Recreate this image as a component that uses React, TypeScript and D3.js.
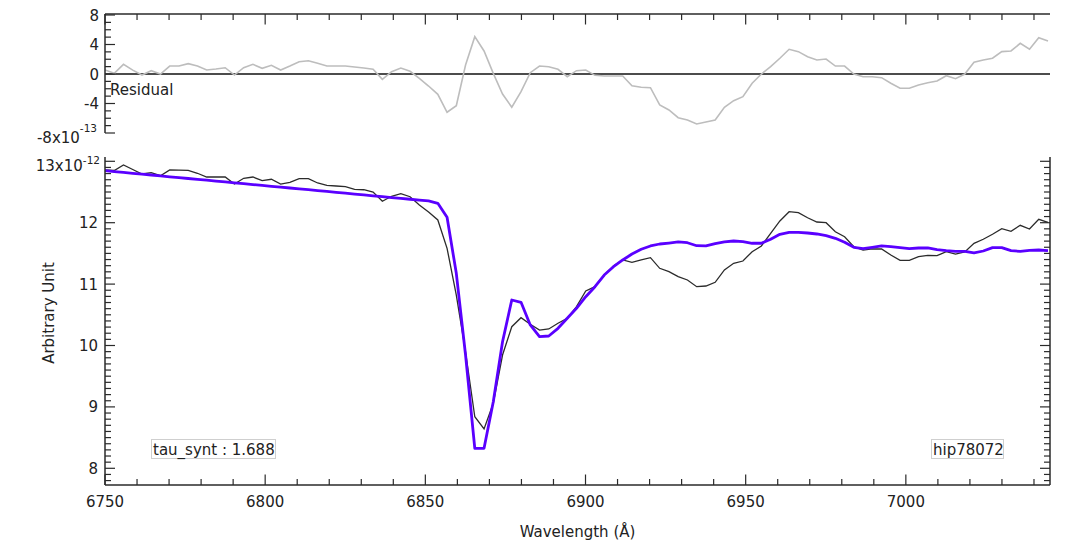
import React from "react";
import * as d3 from "d3";

// wavelength grid (Å)
const WAVE_START = 6750;
const WAVE_STEP = 2.886;

// observed spectrum (x1e-12)
const observed = [
  12.858, 12.850, 12.940, 12.866, 12.793, 12.814, 12.765, 12.858, 12.855, 12.853,
  12.805, 12.744, 12.744, 12.744, 12.630, 12.723, 12.744, 12.684, 12.707, 12.630,
  12.658, 12.717, 12.717, 12.647, 12.609, 12.598, 12.586, 12.544, 12.537, 12.500,
  12.349, 12.430, 12.472, 12.423, 12.288, 12.174, 12.044, 11.583, 10.822, 9.894,
  8.840, 8.640, 9.059, 9.845, 10.306, 10.453, 10.345, 10.252, 10.269, 10.362,
  10.443, 10.632, 10.888, 10.958, 11.148, 11.295, 11.393, 11.355, 11.393, 11.430,
  11.257, 11.202, 11.121, 11.067, 10.958, 10.969, 11.029, 11.230, 11.339, 11.376,
  11.528, 11.621, 11.827, 12.028, 12.179, 12.163, 12.081, 12.011, 12.000, 11.853,
  11.772, 11.609, 11.555, 11.572, 11.572, 11.474, 11.388, 11.388, 11.446, 11.469,
  11.463, 11.528, 11.490, 11.523, 11.664, 11.730, 11.811, 11.902, 11.860, 11.958,
  11.897, 12.055, 12.007,
];

// synthetic model (x1e-12)
const model = [
  12.847, 12.833, 12.819, 12.805, 12.791, 12.777, 12.762, 12.748, 12.734, 12.720,
  12.706, 12.692, 12.678, 12.664, 12.650, 12.636, 12.621, 12.607, 12.593, 12.579,
  12.565, 12.551, 12.537, 12.523, 12.509, 12.495, 12.480, 12.466, 12.452, 12.438,
  12.424, 12.410, 12.396, 12.382, 12.368, 12.354, 12.316, 12.088, 11.176, 9.845,
  8.326, 8.326, 9.085, 10.062, 10.741, 10.704, 10.334, 10.143, 10.155, 10.280,
  10.443, 10.606, 10.795, 10.958, 11.148, 11.283, 11.393, 11.490, 11.567, 11.621,
  11.653, 11.669, 11.686, 11.674, 11.625, 11.621, 11.658, 11.686, 11.702, 11.691,
  11.665, 11.665, 11.730, 11.811, 11.844, 11.844, 11.832, 11.816, 11.788, 11.746,
  11.681, 11.599, 11.577, 11.599, 11.621, 11.609, 11.593, 11.577, 11.588, 11.588,
  11.560, 11.544, 11.534, 11.534, 11.507, 11.539, 11.593, 11.593, 11.544, 11.534,
  11.550, 11.555, 11.544,
];

// residual (x1e-13)
const residual = [
  0.54, 0.09, 1.31, 0.53, -0.14, 0.45, 0.0, 1.08, 1.08, 1.40,
  1.08, 0.54, 0.68, 0.85, -0.14, 0.85, 1.31, 0.77, 1.18, 0.54,
  1.08, 1.67, 1.80, 1.45, 1.08, 1.08, 1.08, 0.95, 0.81, 0.64,
  -0.72, 0.31, 0.81, 0.37, -0.58, -1.63, -2.75, -5.19, -4.30, 1.22,
  5.06, 3.12, 0.09, -2.71, -4.51, -2.39, 0.18, 1.08, 0.99, 0.64,
  -0.36, 0.45, 0.54, -0.18, -0.27, -0.27, -0.27, -1.59, -1.80, -1.86,
  -4.20, -4.88, -5.92, -6.24, -6.78, -6.51, -6.24, -4.51, -3.62, -3.08,
  -1.26, 0.0, 0.99, 2.14, 3.35, 3.03, 2.35, 1.90, 2.03, 1.08,
  1.08, 0.0, -0.37, -0.37, -0.50, -1.26, -1.94, -1.94, -1.49, -1.18,
  -0.95, -0.23, -0.64, 0.0, 1.59, 1.90, 2.14, 3.03, 3.12, 4.16,
  3.35, 4.92, 4.47,
];

const xTickLabels = ["6750", "6800", "6850", "6900", "6950", "7000"];
const yMainTickLabels = ["8", "9", "10", "11", "12"];
const yResTickLabels = ["4", "0", "-4"];

const FONT = "'DejaVu Sans', sans-serif";
const AXIS = "#2a2a2a";

export default function App() {
  const x = d3.scaleLinear().domain([6750, 7045]).range([105, 1050]);
  const y = d3.scaleLinear().domain([7.728, 13.07]).range([485, 157]);
  const yr = d3.scaleLinear().domain([-8, 8]).range([133, 15]);
  const wl = observed.map((_, i) => WAVE_START + i * WAVE_STEP);

  const lineMain = d3
    .line<number>()
    .x((_, i) => x(wl[i]))
    .y((d) => y(d));
  const lineRes = d3
    .line<number>()
    .x((_, i) => x(wl[i]))
    .y((d) => yr(d));

  const xMinor = d3.range(6750, 7046, 10);
  const yMinor = d3.range(78, 131).map((v) => v / 10);
  const yrMinor = d3.range(-8, 9, 1);

  const [x0, x1] = x.range();
  const yTop = 157, yBot = 485;

  return (
    <svg
      width={1083}
      height={551}
      style={{ position: "absolute", left: 0, top: 0, background: "#fff" }}
      fontFamily={FONT}
    >
      <defs>
        <clipPath id="mainClip">
          <rect x={x0} y={yTop} width={x1 - x0} height={yBot - yTop} />
        </clipPath>
        <clipPath id="resClip">
          <rect x={x0} y={14} width={x1 - x0} height={120} />
        </clipPath>
      </defs>

      {/* ===== Residual panel ===== */}
      <line x1={x0} x2={x1} y1={yr(0)} y2={yr(0)} stroke="#111" strokeWidth={1.3} />
      <path
        d={lineRes(residual) || ""}
        fill="none"
        stroke="#bdbdbd"
        strokeWidth={1.6}
        clipPath="url(#resClip)"
      />
      {/* top axis */}
      <line x1={x0} x2={x1} y1={14} y2={14} stroke={AXIS} strokeWidth={1.5} />
      {xMinor.map((v) => (
        <line
          key={"rt" + v}
          x1={x(v)}
          x2={x(v)}
          y1={14}
          y2={14 + (v % 50 === 0 ? 10.5 : 6)}
          stroke={AXIS}
          strokeWidth={1.2}
        />
      ))}
      {/* left axis */}
      <line x1={x0} x2={x0} y1={14} y2={yr(-8)} stroke={AXIS} strokeWidth={1.5} />
      {yrMinor.map((v) => (
        <line
          key={"rl" + v}
          x1={x0}
          x2={x0 + (v % 4 === 0 ? 10 : 6)}
          y1={yr(v)}
          y2={yr(v)}
          stroke={AXIS}
          strokeWidth={1.2}
        />
      ))}
      <text x={99} y={yr(8) + 5.5} textAnchor="end" fontSize={15} fill="#222">
        8
      </text>
      {yResTickLabels.map((t) => (
        <text key={"rl" + t} x={99} y={yr(+t) + 5.5} textAnchor="end" fontSize={15} fill="#222">
          {t}
        </text>
      ))}
      <text x={97} y={143} textAnchor="end" fontSize={15} fill="#222">
        -8x10
        <tspan dy={-11} fontSize={10.5}>
          -13
        </tspan>
      </text>
      <text x={110} y={95} fontSize={15} fill="#222">
        Residual
      </text>

      {/* ===== Main panel ===== */}
      <path
        d={lineMain(observed) || ""}
        fill="none"
        stroke="#2b2b2b"
        strokeWidth={1.3}
        clipPath="url(#mainClip)"
      />
      <path
        d={lineMain(model) || ""}
        fill="none"
        stroke="#5a00ff"
        strokeWidth={2.8}
        strokeLinejoin="round"
        clipPath="url(#mainClip)"
      />

      {/* bottom axis */}
      <line x1={x0} x2={x1} y1={yBot} y2={yBot} stroke={AXIS} strokeWidth={1.5} />
      {xMinor.map((v) => (
        <line
          key={"bt" + v}
          x1={x(v)}
          x2={x(v)}
          y1={yBot}
          y2={yBot - (v % 50 === 0 ? 10.5 : 6)}
          stroke={AXIS}
          strokeWidth={1.2}
        />
      ))}
      {xTickLabels.map((t) => (
        <text key={"xl" + t} x={x(+t)} y={507} textAnchor="middle" fontSize={15} fill="#222">
          {t}
        </text>
      ))}
      <text x={(x0 + x1) / 2} y={537} textAnchor="middle" fontSize={15} fill="#222">
        Wavelength (Å)
      </text>

      {/* left & right axes */}
      <line x1={x0} x2={x0} y1={yTop} y2={yBot} stroke={AXIS} strokeWidth={1.5} />
      <line x1={x1} x2={x1} y1={yTop} y2={yBot} stroke={AXIS} strokeWidth={1.5} />
      {yMinor.map((v) => {
        const major = Math.round(v * 10) % 10 === 0;
        const len = major ? 10 : 6;
        return (
          <g key={"yt" + v}>
            <line x1={x0} x2={x0 + len} y1={y(v)} y2={y(v)} stroke={AXIS} strokeWidth={1.2} />
            <line x1={x1} x2={x1 - len} y1={y(v)} y2={y(v)} stroke={AXIS} strokeWidth={1.2} />
          </g>
        );
      })}
      {yMainTickLabels.map((t) => (
        <text key={"yl" + t} x={98} y={y(+t) + 5.5} textAnchor="end" fontSize={15} fill="#222">
          {t}
        </text>
      ))}
      <text x={100} y={170.5} textAnchor="end" fontSize={15} fill="#222">
        13x10
        <tspan dy={-7} fontSize={10.5}>
          -12
        </tspan>
      </text>
      <text
        transform={`translate(54, ${313}) rotate(-90)`}
        textAnchor="middle"
        fontSize={15}
        fill="#222"
      >
        Arbitrary Unit
      </text>

      {/* annotation boxes */}
      <rect x={151.5} y={439.5} width={124} height={19} fill="#fff" stroke="#cfcfcf" strokeWidth={1} />
      <text x={153} y={454.5} fontSize={15} fill="#222">
        tau_synt : 1.688
      </text>
      <rect x={931.5} y={439.5} width={72} height={19} fill="#fff" stroke="#cfcfcf" strokeWidth={1} />
      <text x={933} y={454.5} fontSize={15} fill="#222">
        hip78072
      </text>
    </svg>
  );
}
